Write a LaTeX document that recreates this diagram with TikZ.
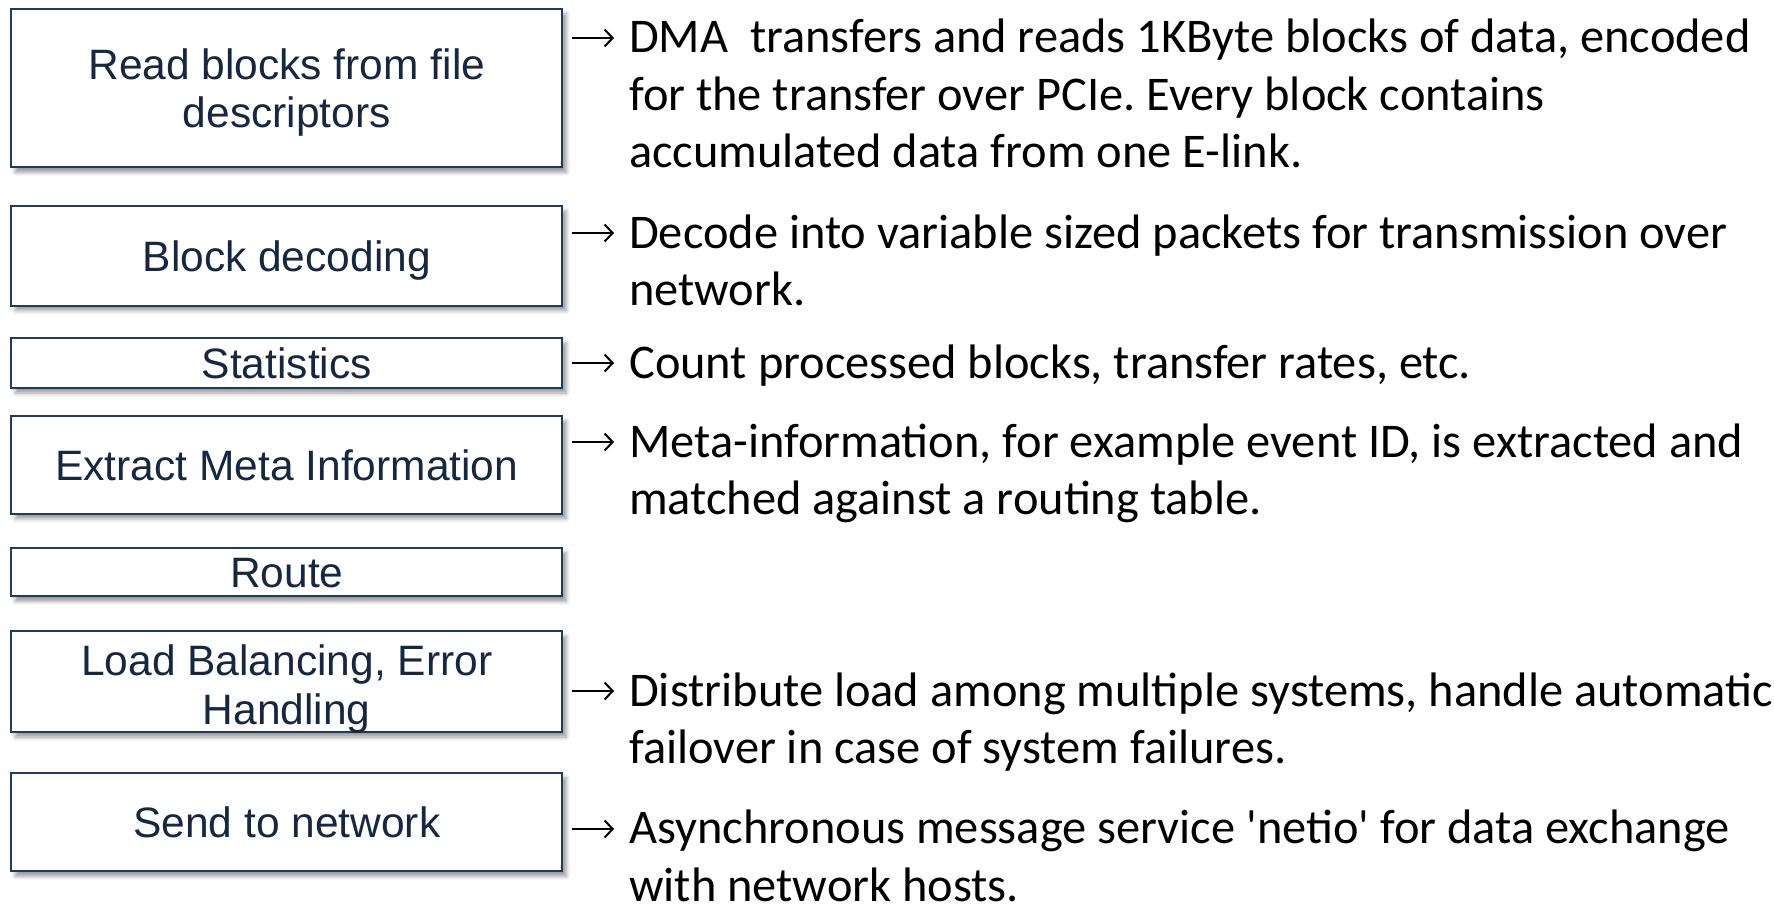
\documentclass[tikz,border=0pt]{standalone}
\usepackage{fontspec}
\setmainfont{Carlito}
\newfontfamily\boxfont{Liberation Sans}
\usetikzlibrary{shadows.blur,arrows.meta}
\definecolor{boxline}{HTML}{1F3B5E}
\definecolor{boxtext}{HTML}{172741}
\frenchspacing
\begin{document}
\begin{tikzpicture}[x=1pt,y=-1pt,
  stage/.style={draw=boxline, line width=2pt, fill=white,
    minimum width=551pt, inner sep=0pt, align=center,
    font=\boxfont\fontsize{42.5}{48.7}\selectfont, text=boxtext,
    text height=30.4pt, text depth=0pt,
    blur shadow={shadow xshift=4pt, shadow yshift=-5pt,
      shadow blur radius=4pt, shadow opacity=40}},
  twolines/.style={text height=79.1pt, text depth=0pt},
  note/.style={anchor=base west, inner sep=0pt, align=left,
    font=\fontsize{48.4}{57.4}\selectfont},
  pointer/.style={-{Straight Barb[length=8pt,width=17pt]}, line width=2pt}
]
\useasboundingbox (0,0) rectangle (1774,904);

% processing stages
\node[stage, twolines, minimum height=158.5pt] (b1) at (286.8,88.2)
  {Read blocks from file\\descriptors};
\node[stage, minimum height=99.5pt] (b2) at (286.8,255.8) {Block decoding};
\node[stage, minimum height=50pt] (b3) at (286.8,363) {Statistics};
\node[stage, minimum height=97.7pt] (b4) at (286.8,464.9) {Extract Meta Information};
\node[stage, minimum height=48.7pt] (b5) at (286.8,572) {Route};
\node[stage, twolines, text height=85.1pt, minimum height=100.7pt] (b6) at (286.8,681.7)
  {Load Balancing, Error\\Handling};
\node[stage, minimum height=98.4pt] (b7) at (286.8,822) {Send to network};

% descriptions (placed by the baseline of their last line)
\node[note] (d1) at (629,167.8)
  {DMA\ \ transfers and reads 1KByte blocks of data, encoded\\for the transfer over PCIe. Every block contains\\accumulated data from one E-link.};
\node[note] (d2) at (629,305.4)
  {Decode into variable sized packets for transmission over\\network.};
\node[note] (d3) at (629,378)
  {Count processed blocks, transfer rates, etc.};
\node[note] (d4) at (629,514.4)
  {Meta-information, for example event ID, is extracted and\\matched against a routing table.};
\node[note] (d6) at (629,763.4)
  {Distribute load among multiple systems, handle automatic\\failover in case of system failures.};
\node[note] (d7) at (629,901)
  {Asynchronous message service \textquotesingle netio\textquotesingle{} for data exchange\\with network hosts.};

% pointers from stages to their descriptions
\foreach \i/\y in {1/38, 2/233, 3/363, 4/442, 6/691, 7/829} {
  \coordinate (s\i) at (572,\y);
  \coordinate (e\i) at (614,\y);
  \draw[pointer] (s\i) -- (e\i);
}
\end{tikzpicture}
\end{document}
